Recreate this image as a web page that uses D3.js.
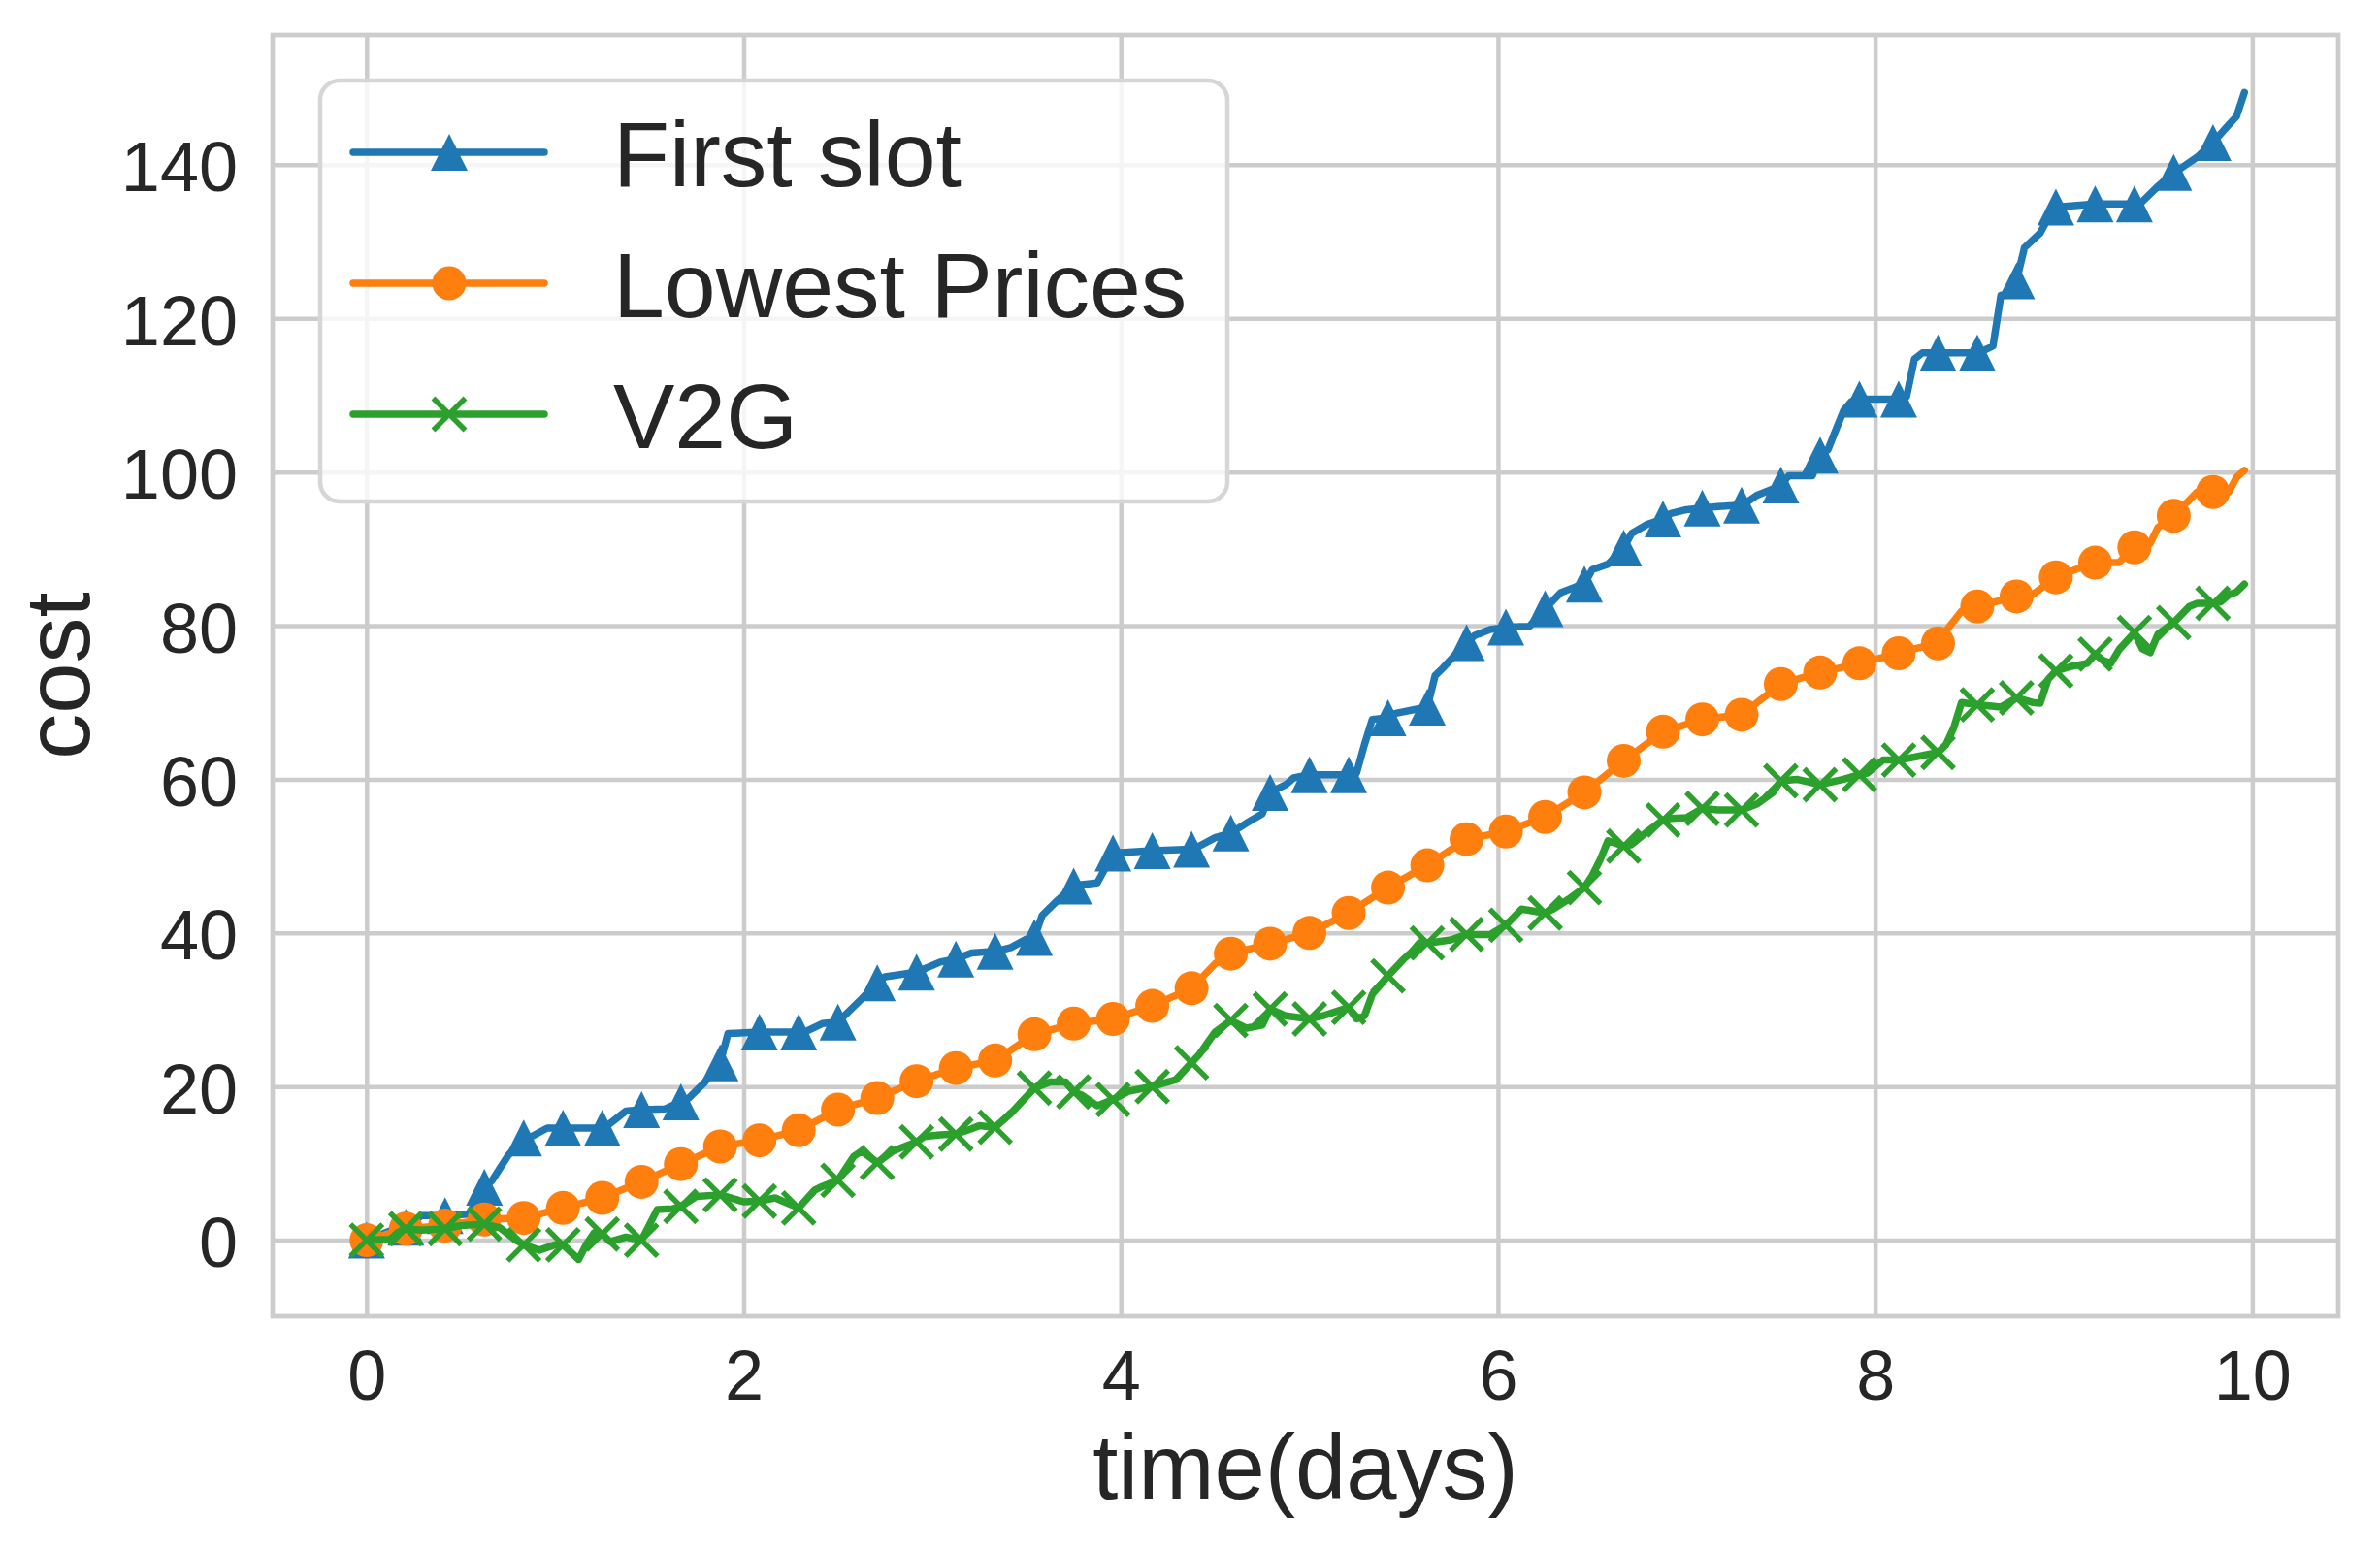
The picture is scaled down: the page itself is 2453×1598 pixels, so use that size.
<!DOCTYPE html>
<html>
<head>
<meta charset="utf-8">
<script src="https://cdn.jsdelivr.net/npm/d3@7"></script>
<style>
  html, body { margin: 0; padding: 0; background: #ffffff; }
  svg { display: block; }
  text { font-family: "Liberation Sans", Arial, Helvetica, sans-serif; fill: #262626; }
</style>
</head>
<body>
<svg id="chart" width="2453" height="1598"></svg>
<script>
// ---- data: [hour, cost] (markers every 5 hours) ----
const seriesNames = ["First slot", "Lowest Prices", "V2G"];
const seriesColors = ["#1f77b4", "#ff7f0e", "#2ca02c"];
const seriesMarkers = ["triangle", "circle", "x"];

const firstSlot = [
  [0,0],[3,1.2],[5,1.7],[7,3.2],[10,3.2],[13,3.4],[15,6.9],[16,7.8],[18,11.0],[20,13.3],
  [21,13.5],[23,14.6],[25,14.6],[30,14.6],[31,15.2],[33,16.8],[35,17.0],[38,17.1],[40,18.0],
  [41,18.5],[43,20.5],[45,23.1],[46,26.9],[50,27.1],[55,27.1],[56,27.2],[58,28.2],[60,28.4],
  [63,31.4],[65,33.5],[66,34.3],[70,34.9],[73,36.2],[75,36.6],[77,37.4],[80,37.6],[82,38.1],
  [84,39.2],[85,39.4],[86,42.3],[88,44.3],[90,46.1],[91,46.3],[93,46.5],[94,48.4],[95,50.4],
  [100,50.7],[105,50.9],[106,51.3],[108,52.4],[110,53.0],[112,54.3],[114,55.5],[115,58.3],
  [117,59.3],[118,60.2],[120,60.6],[125,60.6],[126,60.8],[127,64.5],[128,67.8],[130,68.0],
  [131,68.6],[134,69.2],[135,69.4],[136,73.5],[137,74.5],[138,75.6],[140,77.8],[141,78.7],
  [143,79.5],[145,79.8],[148,79.9],[150,82.2],[152,84.3],[154,85.1],[155,85.4],[156,87.3],
  [158,88.0],[160,90.1],[161,92.0],[163,93.2],[165,93.9],[166,94.6],[168,95.1],[170,95.3],
  [172,95.5],[175,95.7],[176,96.3],[177,97.0],[179,97.8],[180,98.3],[181,99.5],[184,99.5],
  [185,102.2],[186,102.9],[187,105.5],[188,108.0],[189,109.2],[190,109.5],[195,109.5],
  [196,109.8],[197,114.7],[198,115.5],[200,115.5],[205,115.5],[206,115.9],[207,116.4],
  [208,123.0],[209,123.2],[210,124.9],[211,129.2],[213,131.1],[214,133.0],[215,134.5],
  [220,134.9],[225,134.9],[226,135.2],[228,137.2],[230,139.0],[231,139.6],[233,141.0],
  [235,142.9],[237,145.2],[238,146.3],[239,149.4]
];

const lowestPrices = [
  [0,0],[5,1.5],[10,1.9],[15,2.7],[20,2.9],[22,3.4],[25,4.2],[30,5.5],[35,7.6],[40,9.9],
  [45,12.2],[50,13.0],[55,14.3],[60,17.0],[65,18.5],[70,20.7],[75,22.4],[80,23.4],[85,26.8],
  [90,28.2],[95,28.8],[100,30.5],[105,32.8],[108,36.0],[110,37.3],[115,38.6],[120,40.0],
  [125,42.6],[130,45.9],[135,48.8],[140,52.2],[145,53.2],[150,55.1],[155,58.3],[160,62.4],
  [165,66.2],[170,67.8],[175,68.4],[180,72.4],[185,73.9],[190,75.1],[195,76.4],[197,77.0],
  [200,77.7],[201,79.3],[203,81.9],[205,82.5],[210,83.8],[212,84.0],[215,86.3],[217,87.1],
  [220,88.2],[223,88.2],[225,90.2],[227,90.7],[228,92.8],[230,94.3],[233,97.4],[235,97.4],
  [237,97.4],[238,99.3],[239,100.2]
];

const v2g = [
  [0,0],[3,0.1],[4,1.0],[5,1.5],[7,1.3],[10,1.5],[12,1.9],[15,2.1],[17,1.6],[19,0.0],
  [20,-0.6],[22,-1.3],[24,-0.6],[25,-0.6],[27,-2.5],[28,-0.5],[29,1.0],[30,0.8],[31,-0.2],
  [33,0.4],[35,0.0],[37,4.0],[39,4.1],[40,4.4],[42,5.7],[45,5.9],[48,5.0],[50,5.1],[52,5.5],
  [55,4.2],[57,6.5],[58,7.0],[60,7.8],[62,10.9],[63,11.6],[65,10.1],[67,11.6],[68,12.0],
  [70,12.8],[71,13.5],[73,13.7],[75,13.8],[77,14.5],[78,14.9],[80,14.7],[82,16.5],[85,19.8],
  [87,20.6],[89,20.6],[90,19.3],[91,18.9],[93,17.5],[95,18.3],[97,19.4],[100,20.0],
  [103,20.9],[105,23.1],[106,24.2],[108,27.1],[110,28.6],[112,27.6],[114,28.0],[115,30.1],
  [117,29.2],[120,28.8],[122,29.3],[125,30.3],[126,28.8],[127,29.2],[128,32.0],[130,34.4],
  [132,36.6],[133,37.5],[134,38.7],[135,38.7],[136,38.8],[138,39.1],[140,39.8],[143,39.8],
  [145,41.0],[147,43.1],[150,42.6],[151,43.1],[153,44.4],[155,45.9],[156,47.5],[157,49.5],
  [158,52.0],[160,51.3],[161,51.5],[163,53.2],[165,54.7],[166,54.9],[168,55.0],[170,56.2],
  [172,56.0],[175,56.0],[177,56.8],[179,58.3],[180,59.8],[182,60.0],[185,59.3],[188,60.0],
  [190,60.6],[191,60.8],[193,62.5],[195,62.5],[197,62.9],[200,63.5],[201,64.5],[202,66.7],
  [203,70.0],[205,69.7],[208,69.4],[210,70.6],[212,70.0],[213,69.9],[214,73.0],[215,74.1],
  [217,74.7],[219,75.1],[220,76.3],[221,75.5],[222,75.1],[223,76.8],[225,79.1],[226,77.0],
  [227,76.5],[228,78.9],[230,80.4],[232,82.5],[233,82.9],[235,82.9],[236,83.1],[237,84.0],
  [238,84.4],[239,85.4]
];

const xTicks = [0, 2, 4, 6, 8, 10];
const yTicks = [0, 20, 40, 60, 80, 100, 120, 140];
const xLabel = "time(days)";
const yLabel = "cost";
const hoursPerDay = 24;
const markEvery = 5;

// ---- layout ----
const W = 2453, H = 1598;
const plot = { left: 281, right: 2410, top: 36, bottom: 1357 };
const svg = d3.select("#chart");

const x = d3.scaleLinear().domain([-0.498, 10.456]).range([plot.left, plot.right]);
const y = d3.scaleLinear().domain([-9.9, 156.9]).range([plot.bottom, plot.top]);

const gridColor = "#cccccc";

// grid
const gx = svg.append("g")
  .attr("transform", `translate(0,${plot.bottom})`)
  .call(d3.axisBottom(x).tickValues(xTicks).tickSize(-(plot.bottom - plot.top)).tickFormat(d3.format("d")).tickPadding(0));
gx.select(".domain").remove();
gx.selectAll(".tick line").attr("stroke", gridColor).attr("stroke-width", 4.5);
gx.selectAll(".tick text")
  .attr("font-size", 72).attr("fill", "#262626").attr("dy", null)
  .attr("y", 1443 - plot.bottom)
  .style("font-family", '"Liberation Sans", Arial, sans-serif');

const gy = svg.append("g")
  .attr("transform", `translate(${plot.left},0)`)
  .call(d3.axisLeft(y).tickValues(yTicks).tickSize(-(plot.right - plot.left)).tickFormat(d3.format("d")).tickPadding(0));
gy.select(".domain").remove();
gy.selectAll(".tick line").attr("stroke", gridColor).attr("stroke-width", 4.5);
gy.selectAll(".tick text")
  .attr("font-size", 72).attr("fill", "#262626").attr("dy", null)
  .attr("x", 245 - plot.left).attr("y", 27)
  .attr("text-anchor", "end")
  .style("font-family", '"Liberation Sans", Arial, sans-serif');

// spines
svg.append("rect")
  .attr("x", plot.left).attr("y", plot.top)
  .attr("width", plot.right - plot.left).attr("height", plot.bottom - plot.top)
  .attr("fill", "none").attr("stroke", gridColor).attr("stroke-width", 4.7);

// clip
svg.append("clipPath").attr("id", "clip").append("rect")
  .attr("x", plot.left).attr("y", plot.top)
  .attr("width", plot.right - plot.left).attr("height", plot.bottom - plot.top);

const allSeries = [firstSlot, lowestPrices, v2g];
const line = d3.line().x(d => x(d[0] / hoursPerDay)).y(d => y(d[1]));

const triSize = 38, circR = 17.5, xHalf = 16.5;

function drawMarker(g, kind, color, cx, cy) {
  if (kind === "triangle") {
    const s = triSize / 2;
    g.append("path")
      .attr("d", `M${cx},${cy - s}L${cx - s},${cy + s}L${cx + s},${cy + s}Z`)
      .attr("fill", color);
  } else if (kind === "circle") {
    g.append("circle").attr("cx", cx).attr("cy", cy).attr("r", circR).attr("fill", color);
  } else {
    g.append("path")
      .attr("d", `M${cx - xHalf},${cy - xHalf}L${cx + xHalf},${cy + xHalf}M${cx - xHalf},${cy + xHalf}L${cx + xHalf},${cy - xHalf}`)
      .attr("stroke", color).attr("stroke-width", 5.5).attr("fill", "none");
  }
}

const dataG = svg.append("g").attr("clip-path", "url(#clip)");
allSeries.forEach((data, i) => {
  const g = dataG.append("g");
  g.append("path")
    .datum(data)
    .attr("d", line)
    .attr("fill", "none")
    .attr("stroke", seriesColors[i])
    .attr("stroke-width", 7.5)
    .attr("stroke-linejoin", "round")
    .attr("stroke-linecap", "round");
  data.filter(d => d[0] % markEvery === 0).forEach(d => {
    drawMarker(g, seriesMarkers[i], seriesColors[i], x(d[0] / hoursPerDay), y(d[1]));
  });
});

// legend
const leg = svg.append("g");
leg.append("rect")
  .attr("x", 330).attr("y", 83).attr("width", 935).attr("height", 434)
  .attr("rx", 20).attr("ry", 20)
  .attr("fill", "#ffffff").attr("fill-opacity", 0.8)
  .attr("stroke", "#d6d6d6").attr("stroke-width", 4.5);
const rowY = [157, 292, 427];
seriesNames.forEach((name, i) => {
  leg.append("line")
    .attr("x1", 364).attr("x2", 561).attr("y1", rowY[i]).attr("y2", rowY[i])
    .attr("stroke", seriesColors[i]).attr("stroke-width", 7.5).attr("stroke-linecap", "round");
  drawMarker(leg, seriesMarkers[i], seriesColors[i], 463, rowY[i]);
  leg.append("text")
    .attr("x", 632).attr("y", rowY[i] + 35)
    .attr("font-size", 95)
    .text(name);
});

// axis labels
svg.append("text")
  .attr("x", (plot.left + plot.right) / 2).attr("y", 1545)
  .attr("text-anchor", "middle").attr("font-size", 94)
  .text(xLabel);
svg.append("text")
  .attr("transform", `translate(92,${(plot.top + plot.bottom) / 2}) rotate(-90)`)
  .attr("text-anchor", "middle").attr("font-size", 94)
  .text(yLabel);
</script>
</body>
</html>
